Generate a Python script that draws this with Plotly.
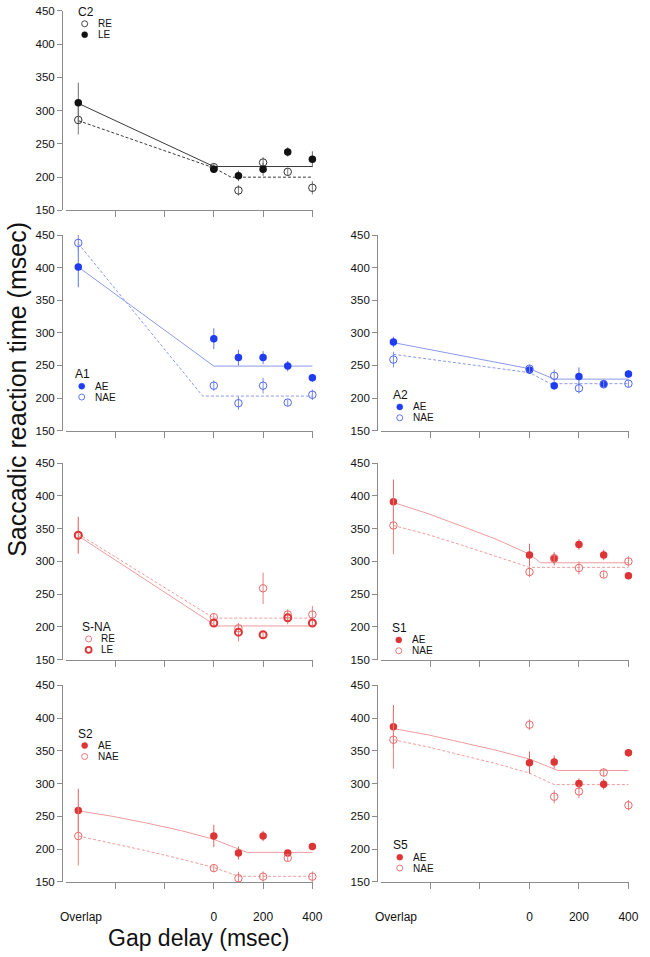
import plotly.graph_objects as go

W, H = 650, 957

# ---------------- data ----------------
gap_x = [-550, 0, 100, 200, 300, 400]          # Overlap, 0..400 ms gap
x_tick_vals = [-400, -200, 0, 200, 400]
x_tick_text = ["", "", "0", "200", "400"]
y_tick_vals = [150, 200, 250, 300, 350, 400, 450]

# C2
c2_le = [312, 212, 202, 212, 238, 227]
c2_le_err = [30, 5, 8, 10, 7, 12]
c2_re = [286, 215, 180, 222, 208, 184]
c2_re_err = [22, 5, 8, 8, 5, 10]
c2_le_fit_x = [-550, 0, 400]
c2_le_fit_y = [311, 216, 216]
c2_re_fit_x = [-550, 0, 70, 400]
c2_re_fit_y = [285, 214, 200, 200]

# A1
a1_ae = [401, 291, 262, 262, 249, 231]
a1_ae_err = [31, 16, 12, 10, 8, 6]
a1_nae = [438, 219, 192, 219, 193, 205]
a1_nae_err = [12, 8, 10, 12, 5, 8]
a1_ae_fit_x = [-550, 0, 400]
a1_ae_fit_y = [401, 249, 249]
a1_nae_fit_x = [-550, -45, 400]
a1_nae_fit_y = [437, 203, 203]

# A2
a2_ae = [286, 243, 219, 233, 222, 237]
a2_ae_err = [8, 6, 6, 14, 6, 6]
a2_nae = [259, 245, 234, 215, 221, 222]
a2_nae_err = [12, 6, 10, 8, 6, 5]
a2_ae_fit_x = [-550, 0, 100, 400]
a2_ae_fit_y = [285, 245, 229, 229]
a2_nae_fit_x = [-550, 0, 85, 400]
a2_nae_fit_y = [267, 239, 222, 222]

# S-NA
sna_re = [340, 215, 198, 259, 219, 219]
sna_re_err = [28, 5, 8, 24, 8, 13]
sna_le = [340, 206, 192, 188, 214, 206]
sna_le_err = [28, 5, 14, 5, 10, 5]
sna_re_fit_x = [-550, 0, 400]
sna_re_fit_y = [342, 213.5, 213.5]
sna_le_fit_x = [-550, 10, 400]
sna_le_fit_y = [339, 201.5, 201.5]

# S1
s1_ae = [391, 310, 304, 326, 310, 278]
s1_ae_err = [34, 17, 10, 8, 8, 5]
s1_nae = [355, 284, 305, 290, 280, 300]
s1_nae_err = [44, 8, 8, 10, 5, 8]
s1_ae_fit_x = [-550, -410, -275, -135, 0, 45, 400]
s1_ae_fit_y = [390, 373, 354, 334, 311, 298, 298]
s1_nae_fit_x = [-550, -410, -275, -135, 0, 400]
s1_nae_fit_y = [355, 341, 325, 308, 291, 291]

# S2
s2_ae = [259, 220, 194, 220, 194, 204]
s2_ae_err = [33, 17, 10, 8, 5, 5]
s2_nae = [220, 171, 155.5, 158, 186.7, 158]
s2_nae_err = [45, 6, 10, 8, 5, 8]
s2_ae_fit_x = [-550, -410, -275, -135, 0, 135, 400]
s2_ae_fit_y = [258.5, 250, 240, 228.5, 215, 195, 195]
s2_nae_fit_x = [-550, -410, -275, -135, 0, 100, 400]
s2_nae_fit_y = [220, 209, 197.5, 185, 172, 158.5, 158.5]

# S5
s5_ae = [387, 332, 333, 300, 299, 347]
s5_ae_err = [33, 17, 10, 8, 8, 6]
s5_nae = [367, 390, 280, 288, 317, 267]
s5_nae_err = [44, 8, 10, 10, 6, 8]
s5_ae_fit_x = [-550, -410, -275, -135, 0, 115, 400]
s5_ae_fit_y = [384, 374.5, 363, 351, 337.5, 320, 320]
s5_nae_fit_x = [-550, -410, -275, -135, 0, 100, 400]
s5_nae_fit_y = [367, 356, 343.5, 330.5, 316, 298.5, 298.5]

# ---------------- styles ----------------
BLACK = dict(fill="#111111", open="#333333", line="#3a3a3a", err="#7a7a7a", ferr="#6a6a6a")
BLUE = dict(fill="#1f3cf2", open="#5068ee", line="#8a9ae6", err="#7b8bec", ferr="#5f73ee")
RED = dict(fill="#dd3535", open="#e46a6a", line="#ee9c9c", err="#e88080", ferr="#e06464")

# series: (legend label, values, errs, kind, fit_x, fit_y, dash)
panels = [
    dict(name="C2", col=0, row=0, pal=BLACK, series=[
        ("RE", c2_re, c2_re_err, "open", c2_re_fit_x, c2_re_fit_y, "dash"),
        ("LE", c2_le, c2_le_err, "fill", c2_le_fit_x, c2_le_fit_y, "solid")],
        legend=(77, 6)),
    dict(name="A1", col=0, row=1, pal=BLUE, series=[
        ("AE", a1_ae, a1_ae_err, "fill", a1_ae_fit_x, a1_ae_fit_y, "solid"),
        ("NAE", a1_nae, a1_nae_err, "open", a1_nae_fit_x, a1_nae_fit_y, "dash")],
        legend=(74, 373)),
    dict(name="A2", col=1, row=1, pal=BLUE, series=[
        ("AE", a2_ae, a2_ae_err, "fill", a2_ae_fit_x, a2_ae_fit_y, "solid"),
        ("NAE", a2_nae, a2_nae_err, "open", a2_nae_fit_x, a2_nae_fit_y, "dash")],
        legend=(397, 394)),
    dict(name="S-NA", col=0, row=2, pal=RED, series=[
        ("RE", sna_re, sna_re_err, "open", sna_re_fit_x, sna_re_fit_y, "dash"),
        ("LE", sna_le, sna_le_err, "thick", sna_le_fit_x, sna_le_fit_y, "solid")],
        legend=(81, 629)),
    dict(name="S1", col=1, row=2, pal=RED, series=[
        ("AE", s1_ae, s1_ae_err, "fill", s1_ae_fit_x, s1_ae_fit_y, "solid"),
        ("NAE", s1_nae, s1_nae_err, "open", s1_nae_fit_x, s1_nae_fit_y, "dash")],
        legend=(396, 630)),
    dict(name="S2", col=0, row=3, pal=RED, series=[
        ("AE", s2_ae, s2_ae_err, "fill", s2_ae_fit_x, s2_ae_fit_y, "solid"),
        ("NAE", s2_nae, s2_nae_err, "open", s2_nae_fit_x, s2_nae_fit_y, "dash")],
        legend=(77, 737)),
    dict(name="S5", col=1, row=3, pal=RED, series=[
        ("AE", s5_ae, s5_ae_err, "fill", s5_ae_fit_x, s5_ae_fit_y, "solid"),
        ("NAE", s5_nae, s5_nae_err, "open", s5_nae_fit_x, s5_nae_fit_y, "dash")],
        legend=(397, 850)),
]

# ---------------- layout geometry (pixels) ----------------
COLS = [dict(x0=67, x1=318, yline=63), dict(x0=387, x1=639, yline=383)]
ROWS = [(5, 207), (232, 430), (463, 662), (688, 887)]
AXC = "#8c8c8c"
FONT = "Liberation Sans, Arial, Helvetica, sans-serif"

def px(x):
    return x / W

def py(y):
    return 1 - y / H

fig = go.Figure()
layout = dict(width=W, height=H, autosize=False,
              margin=dict(l=0, r=0, t=0, b=0),
              paper_bgcolor="white", plot_bgcolor="white",
              showlegend=False, font=dict(family=FONT, color="#111"))
annotations = []
shapes = []

for i, p in enumerate(panels):
    k = i + 1
    xa = "x" if k == 1 else f"x{k}"
    ya = "y" if k == 1 else f"y{k}"
    xkey = "xaxis" if k == 1 else f"xaxis{k}"
    ykey = "yaxis" if k == 1 else f"yaxis{k}"
    c = COLS[p["col"]]
    r0, r1 = ROWS[p["row"]]
    bottom = p["row"] == 3
    layout[xkey] = dict(domain=[px(c["x0"]), px(c["x1"])], range=[-600, 403],
                        anchor=ya, showline=True, linecolor=AXC, linewidth=1,
                        ticks="outside", ticklen=6, tickcolor=AXC, tickwidth=1,
                        tickvals=x_tick_vals, ticktext=x_tick_text,
                        showticklabels=bottom, ticklabelstandoff=18,
                        ticklabeloverflow="allow",
                        tickfont=dict(size=12, color="#111"),
                        showgrid=False, zeroline=False, fixedrange=True)
    layout[ykey] = dict(domain=[py(r1), py(r0)], range=[150, 450],
                        anchor="free", position=px(c["yline"]),
                        showline=True, linecolor=AXC, linewidth=1,
                        ticks="outside", ticklen=5, tickcolor=AXC, tickwidth=1,
                        tickvals=y_tick_vals, tickfont=dict(size=11.5, color="#111"),
                        ticklabeloverflow="allow",
                        showgrid=False, zeroline=False, fixedrange=True)
    pal = p["pal"]
    # fit lines first
    for (lab, vals, errs, kind, fx, fy, dash) in p["series"]:
        fig.add_trace(go.Scatter(x=fx, y=fy, mode="lines", xaxis=xa, yaxis=ya,
                                 line=dict(color=pal["line"], width=1,
                                           dash="solid" if dash == "solid" else "3px,2px"),
                                 hoverinfo="skip"))
    # points
    for (lab, vals, errs, kind, fx, fy, dash) in p["series"]:
        if kind == "fill":
            mk = dict(symbol="circle", size=7.5, color=pal["fill"],
                      line=dict(width=0))
            ec = pal["ferr"]
        elif kind == "thick":
            mk = dict(symbol="circle-open", size=7, color=pal["fill"],
                      line=dict(width=2, color=pal["fill"]))
            ec = pal["err"]
        else:
            mk = dict(symbol="circle-open", size=7.5, color=pal["open"],
                      line=dict(width=1, color=pal["open"]))
            ec = pal["err"]
        fig.add_trace(go.Scatter(x=gap_x, y=vals, mode="markers", xaxis=xa, yaxis=ya,
                                 marker=mk, cliponaxis=False, name=lab,
                                 error_y=dict(type="data", array=errs, visible=True,
                                              color=ec, thickness=1, width=0)))
    # panel label + legend
    lx, ly = p["legend"]
    annotations.append(dict(text=p["name"], x=px(lx), y=py(ly), xref="paper", yref="paper",
                            xanchor="left", yanchor="middle", showarrow=False,
                            font=dict(size=12, color="#111")))
    for j, (lab, vals, errs, kind, fx, fy, dash) in enumerate(p["series"]):
        gy = ly + 12 + 11 * j
        gx = lx + 9
        if kind == "fill":
            fc, lc, lw = pal["fill"], pal["fill"], 0.5
        elif kind == "thick":
            fc, lc, lw = "rgba(0,0,0,0)", pal["fill"], 1.8
        else:
            fc, lc, lw = "rgba(0,0,0,0)", pal["open"], 0.9
        shapes.append(dict(type="circle", xref="paper", yref="paper",
                           xsizemode="pixel", ysizemode="pixel",
                           xanchor=px(gx), yanchor=py(gy),
                           x0=-3, x1=3, y0=-3, y1=3,
                           fillcolor=fc, line=dict(color=lc, width=lw)))
        annotations.append(dict(text=lab, x=px(gx + 11), y=py(gy), xref="paper", yref="paper",
                                xanchor="left", yanchor="middle", showarrow=False,
                                font=dict(size=10, color="#111")))

# "Overlap" labels under bottom row
for k in (6, 7):
    annotations.append(dict(text="Overlap", x=-538, y=py(923), xref=f"x{k}", yref="paper",
                            xanchor="center", yanchor="middle", showarrow=False,
                            font=dict(size=12, color="#111")))

# axis titles
annotations.append(dict(text="Saccadic reaction time (msec)", x=px(17), y=py(388),
                        xref="paper", yref="paper", textangle=-90,
                        xanchor="center", yanchor="middle", showarrow=False,
                        font=dict(size=25, color="#111")))
annotations.append(dict(text="Gap delay (msec)", x=px(202), y=py(944),
                        xref="paper", yref="paper",
                        xanchor="center", yanchor="middle", showarrow=False,
                        font=dict(size=23, color="#111")))

layout["annotations"] = annotations
layout["shapes"] = shapes
fig.update_layout(**layout)
fig.write_html("out.html", config={"displayModeBar": False},
               post_script="document.body.style.margin='0';document.body.style.padding='0';document.body.style.overflow='hidden';")
